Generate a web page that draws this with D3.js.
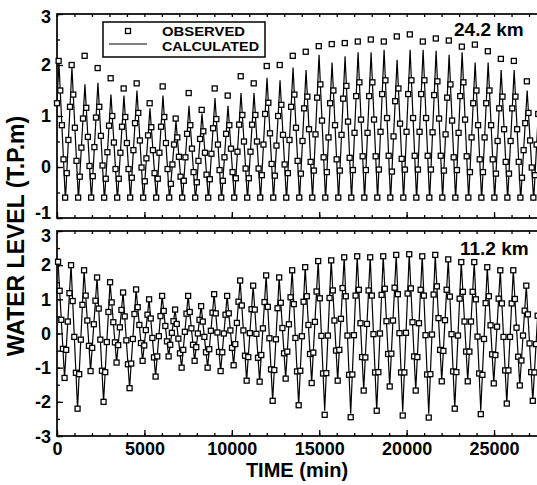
<!DOCTYPE html>
<html>
<head>
<meta charset="utf-8">
<script src="https://cdn.jsdelivr.net/npm/d3@7"></script>
<style>
body { margin: 0; background: #fff; }
svg { display: block; }
text { font-family: "Liberation Sans", Arial, Helvetica, sans-serif; font-weight: bold; fill: #000; }
</style>
</head>
<body>
<script>
var w = 537;
var h = 485;

// tick labels
var xTicks = [0, 5000, 10000, 15000, 20000, 25000];
var topYTicks = [-1, 0, 1, 2, 3];
var botYTicks = [-3, -2, -1, 0, 1, 2, 3];

// sampling (minutes)
var obsStep = 93;
var tidePeriod = 744;
var topObsStart = 0;
var botObsStart = 60;
var topHighStart = 110;
var botHighStart = 60;

// 24.2 km station
var topObserved = [
  1.25, 2.08, 1.50, 0.82, 0.15, -0.6, -0.12, 0.53,
  1.18, 2.00, 1.42, 0.77, 0.12, -0.6, -0.19, 0.38,
  0.95, 2.18, 1.16, 0.59, 0.02, -0.6, -0.18, 0.39,
  0.97, 1.94, 1.18, 0.61, 0.03, -0.6, -0.23, 0.29,
  0.81, 1.74, 1.00, 0.48, -0.04, -0.6, -0.23, 0.28,
  0.79, 1.54, 0.98, 0.47, -0.04, -0.6, -0.21, 0.33,
  0.86, 1.64, 1.06, 0.52, -0.01, -0.6, -0.28, 0.17,
  0.62, 1.25, 0.78, 0.33, -0.12, -0.6, -0.23, 0.28,
  0.79, 1.58, 0.98, 0.47, -0.04, -0.6, -0.33, 0.05,
  0.44, 0.95, 0.58, 0.20, -0.19, -0.6, -0.27, 0.19,
  0.65, 1.45, 0.82, 0.36, -0.10, -0.6, -0.30, 0.12,
  0.55, 1.12, 0.70, 0.28, -0.15, -0.6, -0.24, 0.26,
  0.76, 1.54, 0.94, 0.44, -0.06, -0.6, -0.27, 0.19,
  0.65, 1.40, 0.82, 0.36, -0.10, -0.6, -0.22, 0.30,
  0.83, 1.78, 1.02, 0.50, -0.03, -0.6, -0.22, 0.30,
  0.83, 1.64, 1.02, 0.50, -0.03, -0.6, -0.16, 0.44,
  1.04, 1.98, 1.26, 0.66, 0.06, -0.6, -0.17, 0.42,
  1.00, 2.00, 1.22, 0.63, 0.05, -0.6, -0.12, 0.53,
  1.18, 2.18, 1.42, 0.77, 0.12, -0.6, -0.13, 0.51,
  1.15, 2.26, 1.38, 0.74, 0.10, -0.6, -0.07, 0.64,
  1.36, 2.37, 1.62, 0.91, 0.19, -0.6, -0.10, 0.58,
  1.25, 2.41, 1.50, 0.82, 0.15, -0.6, -0.07, 0.63,
  1.34, 2.43, 1.59, 0.89, 0.18, -0.6, -0.06, 0.67,
  1.39, 2.46, 1.66, 0.93, 0.21, -0.6, -0.06, 0.67,
  1.39, 2.50, 1.66, 0.93, 0.21, -0.6, -0.05, 0.69,
  1.43, 2.46, 1.70, 0.96, 0.22, -0.6, -0.09, 0.60,
  1.29, 2.56, 1.54, 0.85, 0.16, -0.6, -0.05, 0.69,
  1.43, 2.60, 1.70, 0.96, 0.22, -0.6, -0.05, 0.69,
  1.43, 2.46, 1.70, 0.96, 0.22, -0.6, -0.05, 0.68,
  1.41, 2.52, 1.68, 0.95, 0.22, -0.6, -0.07, 0.64,
  1.36, 2.48, 1.62, 0.91, 0.19, -0.6, -0.06, 0.67,
  1.39, 2.36, 1.66, 0.93, 0.21, -0.6, -0.10, 0.58,
  1.25, 2.40, 1.50, 0.82, 0.15, -0.6, -0.10, 0.58,
  1.25, 2.27, 1.50, 0.82, 0.15, -0.6, -0.13, 0.51,
  1.15, 2.12, 1.38, 0.74, 0.10, -0.6, -0.13, 0.51,
  1.15, 2.08, 1.38, 0.74, 0.10, -0.6, -0.21, 0.33,
  0.86, 1.68, 1.06, 0.52, -0.01, -0.6, -0.16, 0.44,
  1.04
];
var topCalcHigh = [2.05, 1.95, 1.62, 1.65, 1.42, 1.40, 1.50, 1.15, 1.40, 0.90,
  1.20, 1.05, 1.35, 1.20, 1.45, 1.45, 1.75, 1.70, 1.95, 1.90,
  2.20, 2.05, 2.17, 2.25, 2.25, 2.30, 2.10, 2.30, 2.30, 2.28,
  2.20, 2.25, 2.05, 2.05, 1.90, 1.90, 1.50, 1.75];
var topCalcLow = [-0.65, -0.66, -0.64, -0.65, -0.66, -0.65, -0.64, -0.66, -0.65, -0.65,
  -0.64, -0.66, -0.65, -0.65, -0.66, -0.64, -0.65, -0.65, -0.66, -0.65,
  -0.64, -0.65, -0.66, -0.65, -0.65, -0.64, -0.66, -0.65, -0.65, -0.66,
  -0.64, -0.65, -0.65, -0.66, -0.65, -0.64, -0.65, -0.66, -0.65];

// 11.2 km station
var botObserved = [
  2.10, 1.25, 0.40, -0.45, -1.30, -0.48, 0.35, 1.18,
  2.00, 0.95, -0.10, -1.15, -2.20, -1.19, -0.18, 0.84,
  1.85, 1.11, 0.38, -0.36, -1.10, -0.42, 0.27, 0.96,
  1.64, 0.73, -0.18, -1.09, -2.00, -1.13, -0.25, 0.63,
  1.50, 0.91, 0.33, -0.26, -0.85, -0.34, 0.18, 0.69,
  1.20, 0.50, -0.20, -0.90, -1.60, -0.88, -0.16, 0.57,
  1.29, 0.77, 0.25, -0.28, -0.80, -0.35, 0.10, 0.55,
  1.00, 0.44, -0.13, -0.70, -1.26, -0.67, -0.08, 0.51,
  1.10, 0.66, 0.22, -0.23, -0.67, -0.33, 0.02, 0.36,
  0.70, 0.28, -0.15, -0.58, -1.00, -0.48, 0.05, 0.58,
  1.10, 0.63, 0.15, -0.33, -0.80, -0.40, 0.00, 0.40,
  0.80, 0.35, -0.10, -0.55, -1.00, -0.46, 0.08, 0.61,
  1.15, 0.59, 0.03, -0.54, -1.10, -0.55, 0.00, 0.55,
  1.10, 0.59, 0.09, -0.42, -0.93, -0.31, 0.31, 0.93,
  1.55, 0.82, 0.09, -0.65, -1.38, -0.69, 0.01, 0.71,
  1.40, 0.70, -0.01, -0.71, -1.41, -0.63, 0.15, 0.92,
  1.70, 0.78, -0.14, -1.05, -1.97, -1.07, -0.17, 0.74,
  1.64, 0.90, 0.16, -0.58, -1.32, -0.53, 0.27, 1.06,
  1.85, 0.86, -0.13, -1.11, -2.10, -1.09, -0.08, 0.93,
  1.94, 1.09, 0.25, -0.60, -1.45, -0.56, 0.34, 1.23,
  2.12, 1.03, -0.07, -1.17, -2.38, -1.16, -0.06, 1.04,
  2.14, 1.26, 0.38, -0.50, -1.38, -0.48, 0.43, 1.33,
  2.23, 1.09, -0.06, -1.21, -2.45, -1.20, -0.05, 1.11,
  2.26, 1.28, 0.30, -0.69, -1.67, -0.70, 0.28, 1.26,
  2.23, 1.11, -0.02, -1.14, -2.26, -1.13, 0.00, 1.13,
  2.26, 1.31, 0.36, -0.60, -1.55, -0.59, 0.38, 1.34,
  2.30, 1.15, 0.01, -1.14, -2.40, -1.14, 0.02, 1.17,
  2.32, 1.32, 0.33, -0.67, -1.67, -0.69, 0.30, 1.28,
  2.26, 1.11, -0.05, -1.20, -2.46, -1.19, -0.03, 1.14,
  2.30, 1.38, 0.45, -0.48, -1.40, -0.51, 0.39, 1.28,
  2.17, 1.08, -0.02, -1.11, -2.20, -1.13, -0.06, 1.02,
  2.09, 1.22, 0.35, -0.53, -1.40, -0.53, 0.35, 1.22,
  2.09, 1.00, -0.09, -1.17, -2.36, -1.21, -0.16, 0.89,
  1.94, 1.09, 0.24, -0.61, -1.46, -0.63, 0.20, 1.02,
  1.85, 0.88, -0.10, -1.08, -2.05, -1.08, -0.10, 0.88,
  1.85, 1.01, 0.17, -0.68, -1.52, -0.79, -0.06, 0.67,
  1.40, 0.56, -0.29, -1.13, -1.97, -1.14, -0.31, 0.52
];
var botCalcHigh = [2.10, 2.00, 1.85, 1.64, 1.50, 1.20, 1.29, 1.00, 1.10, 0.70,
  1.10, 0.80, 1.15, 1.10, 1.55, 1.40, 1.70, 1.64, 1.85, 1.94,
  2.12, 2.14, 2.23, 2.26, 2.23, 2.26, 2.30, 2.32, 2.26, 2.30,
  2.17, 2.09, 2.09, 1.94, 1.85, 1.85, 1.40, 1.35];
var botCalcLow = [-1.30, -2.20, -1.10, -2.00, -0.85, -1.60, -0.80, -1.26, -0.67, -1.00,
  -0.80, -1.00, -1.10, -0.93, -1.38, -1.41, -1.97, -1.32, -2.10, -1.45,
  -2.26, -1.38, -2.35, -1.67, -2.26, -1.55, -2.29, -1.67, -2.35, -1.40,
  -2.20, -1.40, -2.26, -1.46, -2.05, -1.52, -1.97];

// calculated curves: alternating lows and highs, half a period apart
var topCalc = [];
topCalcLow.forEach(function(v, i) {
  topCalc.push([topHighStart - tidePeriod / 2 + i * tidePeriod, v]);
  if (i < topCalcHigh.length) topCalc.push([topHighStart + i * tidePeriod, topCalcHigh[i]]);
});
var botCalc = [];
botCalcHigh.forEach(function(v, i) {
  botCalc.push([botHighStart + i * tidePeriod, v]);
  if (i < botCalcLow.length) botCalc.push([botHighStart + tidePeriod / 2 + i * tidePeriod, botCalcLow[i]]);
});

var xScale = d3.scaleLinear()
    .domain([0, 28000])
    .range([57, 546.5]);
var yTop = d3.scaleLinear()
    .domain([-1, 3])
    .range([218, 14]);
var yBot = d3.scaleLinear()
    .domain([-3, 3])
    .range([436, 231]);

var svg = d3.select("body").append("svg")
    .attr("width", w)
    .attr("height", h);

svg.append("rect")
    .attr("width", w)
    .attr("height", h)
    .attr("fill", "#fff");

svg.append("clipPath")
    .attr("id", "plotclip")
  .append("rect")
    .attr("x", 57)
    .attr("y", 0)
    .attr("width", w - 57)
    .attr("height", h);

function panel(yScale, yTicks, observed, obsStart, calc, label, labelX, labelY, showX, topNudge, bottomNudge) {
    var g = svg.append("g");
    var y0 = yScale.range()[0], y1 = yScale.range()[1];
    var d0 = yScale.domain()[0], d1 = yScale.domain()[1];

    // minor + major ticks, pointing inward
    var halfTicks = d3.range(d0, d1 + 0.01, 0.5);
    var minorX = d3.range(0, 28001, 1000);

    g.append("g")
        .attr("transform", "translate(57,0)")
        .call(d3.axisLeft(yScale).tickValues(halfTicks).tickSize(-3).tickFormat(""))
        .call(function(a) { a.select(".domain").remove(); });
    var yl = g.append("g")
        .attr("transform", "translate(57,0)")
        .call(d3.axisLeft(yScale).tickValues(yTicks).tickSize(-6).tickPadding(6)
              .tickFormat(function(d) { return String(d); }))
        .call(function(a) { a.select(".domain").remove(); });
    // end labels sit a little inside the frame, as in the print
    yl.selectAll(".tick text")
        .attr("y", function(d) { return d === d1 ? topNudge : (d === d0 ? bottomNudge : 0); });

    g.append("g")
        .attr("transform", "translate(0," + y0 + ")")
        .call(d3.axisBottom(xScale).tickValues(minorX).tickSize(-3).tickFormat(""))
        .call(function(a) { a.select(".domain").remove(); });
    g.append("g")
        .attr("transform", "translate(0," + y0 + ")")
        .call(d3.axisBottom(xScale).tickValues(xTicks).tickSize(-6).tickPadding(6)
              .tickFormat(function(d) { return showX ? String(d) : ""; }))
        .call(function(a) { a.select(".domain").remove(); });
    g.append("g")
        .attr("transform", "translate(0," + y1 + ")")
        .call(d3.axisTop(xScale).tickValues(minorX).tickSize(-3).tickFormat(""))
        .call(function(a) { a.select(".domain").remove(); });

    g.selectAll(".tick line")
        .attr("stroke", "#000")
        .attr("stroke-width", 1.3);
    g.selectAll(".tick text")
        .attr("font-size", "18px")
        .attr("fill", "#000");

    // frame
    g.append("rect")
        .attr("x", xScale(0))
        .attr("y", y1)
        .attr("width", xScale(28000) - xScale(0))
        .attr("height", y0 - y1)
        .attr("fill", "none")
        .attr("stroke", "#000")
        .attr("stroke-width", 1.7);

    var line = d3.line()
        .x(function(d) { return xScale(d[0]); })
        .y(function(d) { return yScale(d[1]); });

    g.append("path")
        .datum(calc)
        .attr("clip-path", "url(#plotclip)")
        .attr("d", line)
        .attr("fill", "none")
        .attr("stroke", "#000")
        .attr("stroke-width", 1.2);

    g.selectAll("rect.obs")
        .data(observed)
        .enter()
        .append("rect")
        .attr("class", "obs")
        .attr("x", function(d, i) { return xScale(obsStart + i * obsStep) - 2.5; })
        .attr("y", function(d) { return yScale(d) - 2.5; })
        .attr("width", 5)
        .attr("height", 5)
        .attr("fill", "#fff")
        .attr("stroke", "#000")
        .attr("stroke-width", 1.3);

    g.append("text")
        .attr("x", labelX)
        .attr("y", labelY)
        .attr("font-size", "19px")
        .text(label);
}

panel(yTop, topYTicks, topObserved, topObsStart, topCalc, "24.2 km", 454, 36, false, 3, -5);
panel(yBot, botYTicks, botObserved, botObsStart, botCalc, "11.2 km", 460, 255, true, 5, 1);

// legend
var lg = svg.append("g");
lg.append("rect")
    .attr("x", 103)
    .attr("y", 22)
    .attr("width", 162)
    .attr("height", 35)
    .attr("fill", "#fff")
    .attr("stroke", "#000")
    .attr("stroke-width", 1.5);
lg.append("rect")
    .attr("x", 125.5)
    .attr("y", 28.5)
    .attr("width", 5)
    .attr("height", 5)
    .attr("fill", "#fff")
    .attr("stroke", "#000")
    .attr("stroke-width", 1.3);
lg.append("line")
    .attr("x1", 109)
    .attr("x2", 147)
    .attr("y1", 44)
    .attr("y2", 44)
    .attr("stroke", "#000")
    .attr("stroke-width", 1.2);
lg.append("text")
    .attr("x", 162)
    .attr("y", 35.5)
    .attr("font-size", "12.5px")
    .attr("textLength", 83)
    .attr("lengthAdjust", "spacingAndGlyphs")
    .text("OBSERVED");
lg.append("text")
    .attr("x", 162)
    .attr("y", 50.5)
    .attr("font-size", "12.5px")
    .attr("textLength", 97)
    .attr("lengthAdjust", "spacingAndGlyphs")
    .text("CALCULATED");

// axis titles
svg.append("text")
    .attr("transform", "translate(24,236) rotate(-90)")
    .attr("text-anchor", "middle")
    .attr("font-size", "23px")
    .text("WATER LEVEL (T.P.m)");
svg.append("text")
    .attr("x", 297)
    .attr("y", 477)
    .attr("text-anchor", "middle")
    .attr("font-size", "20px")
    .text("TIME (min)");
</script>
</body>
</html>
